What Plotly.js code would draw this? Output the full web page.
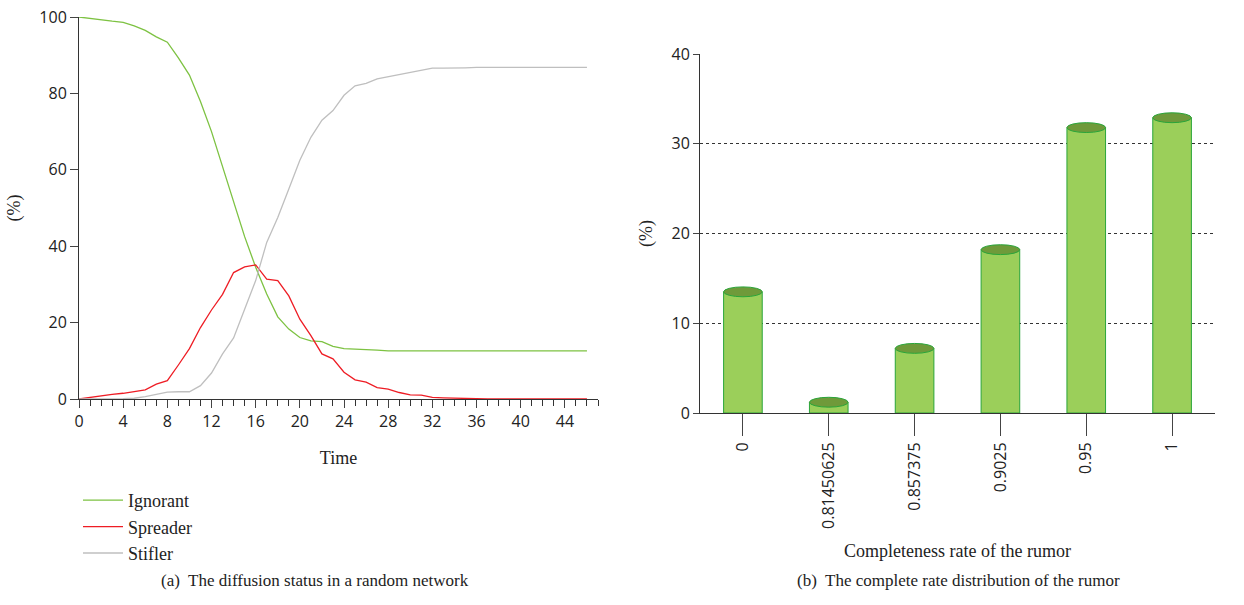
<!DOCTYPE html><html><head><script src="https://cdn.plot.ly/plotly-3.0.1.min.js"></script>
<style>body{margin:0}#c{width:1244px;height:605px}</style></head><body><div id="c"></div><script>
const time=[...Array(47).keys()];
const ignorant=[100,99.6,99.2,98.9,98.6,97.7,96.5,94.8,93.4,89.3,84.8,77.9,70,61,51.5,42.5,34.5,27.5,21.5,18.3,16.1,15.2,15,13.8,13.2,13,12.9,12.8,12.6,12.6,12.6,12.6,12.6,12.6,12.6,12.6,12.6,12.6,12.6,12.6,12.6,12.6,12.6,12.6,12.6,12.6,12.6];
const spreader=[0,0.4,0.9,1.2,1.5,2,2.4,3.9,4.8,8.9,13.2,18.7,23.3,27.4,33.1,34.6,35.1,31.4,31,27,20.9,16.6,11.8,10.5,7,5,4.4,3,2.6,1.7,1.1,1,0.4,0.3,0.2,0.2,0.1,0,0,0,0,0,0,0,0,0,0];
const stifler=[0,0,0,0,0.1,0.2,0.6,1.2,1.8,1.9,1.9,3.5,6.8,11.8,16,23.5,31,41,47.5,55,62.5,68.5,73,75.5,79.5,82,82.6,83.8,84.4,85,85.6,86,86.6,86.6,86.6,86.7,86.8,86.8,86.8,86.8,86.8,86.8,86.8,86.8,86.8,86.8,86.8];
const rates=["0","0.81450625","0.857375","0.9025","0.95","1"];
const dist=[13.5,1.2,7.2,18.2,31.8,32.9];
const serif="Liberation Serif", sans="Open Sans";
const traces=[
{x:time,y:ignorant,name:"Ignorant",mode:"lines",line:{color:"#7dc242",width:1.3}},
{x:time,y:spreader,name:"Spreader",mode:"lines",line:{color:"#ee1c24",width:1.3}},
{x:time,y:stifler,name:"Stifler",mode:"lines",line:{color:"#bfbfbf",width:1.3}},
{x:rates,y:dist,type:"bar",xaxis:"x2",yaxis:"y2",showlegend:false,width:0.45,marker:{color:"#9bcf5a",line:{color:"#2aa53a",width:1}}}
];
const shapes=dist.map((v,i)=>({type:"circle",xref:"x2",yref:"y2",x0:i-0.225,x1:i+0.225,y0:v-0.55,y1:v+0.55,fillcolor:"#6f9a3a",line:{color:"#2aa53a",width:1}}));
const layout={width:1244,height:605,margin:{l:0,r:0,t:0,b:0},paper_bgcolor:"#fff",plot_bgcolor:"#fff",
font:{family:sans,size:16,color:"#222"},
xaxis:{domain:[79/1244,598/1244],range:[0,47],tickvals:[0,4,8,12,16,20,24,28,32,36,40,44],ticks:"outside",ticklen:8,showgrid:false,zeroline:false,showline:true,linecolor:"#333",minor:{dtick:1,ticks:"outside",ticklen:6,tickcolor:"#333"},
 title:{text:"Time",font:{family:serif,size:18},standoff:20},anchor:"y"},
yaxis:{domain:[1-399/605,1-17/605],range:[0,100],dtick:20,ticks:"outside",ticklen:8,showgrid:false,zeroline:false,showline:true,linecolor:"#333",title:{text:"(%)",font:{family:serif,size:18},standoff:14}},
xaxis2:{type:"category",domain:[700/1244,1215/1244],anchor:"y2",tickangle:-90,ticks:"outside",ticklen:22,showline:true,linecolor:"#333",showgrid:false,
 title:{text:"Completeness rate of the rumor",font:{family:serif,size:18},standoff:16}},
yaxis2:{domain:[1-413/605,1-54/605],range:[0,40],dtick:10,anchor:"x2",ticks:"outside",ticklen:6,showline:true,linecolor:"#333",gridcolor:"#333",griddash:"dot",gridwidth:1,zeroline:false,
 title:{text:"(%)",font:{family:serif,size:18},standoff:14}},
showlegend:true,legend:{x:78/1244,y:1-482/605,xanchor:"left",yanchor:"top",font:{family:serif,size:18},tracegroupgap:0,itemwidth:40},
shapes:shapes,bargap:0.5,
annotations:[
{xref:"paper",yref:"paper",x:315/1244,y:1-592/605,xanchor:"center",text:"(a)  The diffusion status in a random network",showarrow:false,font:{family:serif,size:17}},
{xref:"paper",yref:"paper",x:958/1244,y:1-592/605,xanchor:"center",text:"(b)  The complete rate distribution of the rumor",showarrow:false,font:{family:serif,size:17}}]
};
Plotly.newPlot("c",traces,layout,{displayModeBar:false});
</script></body></html>
